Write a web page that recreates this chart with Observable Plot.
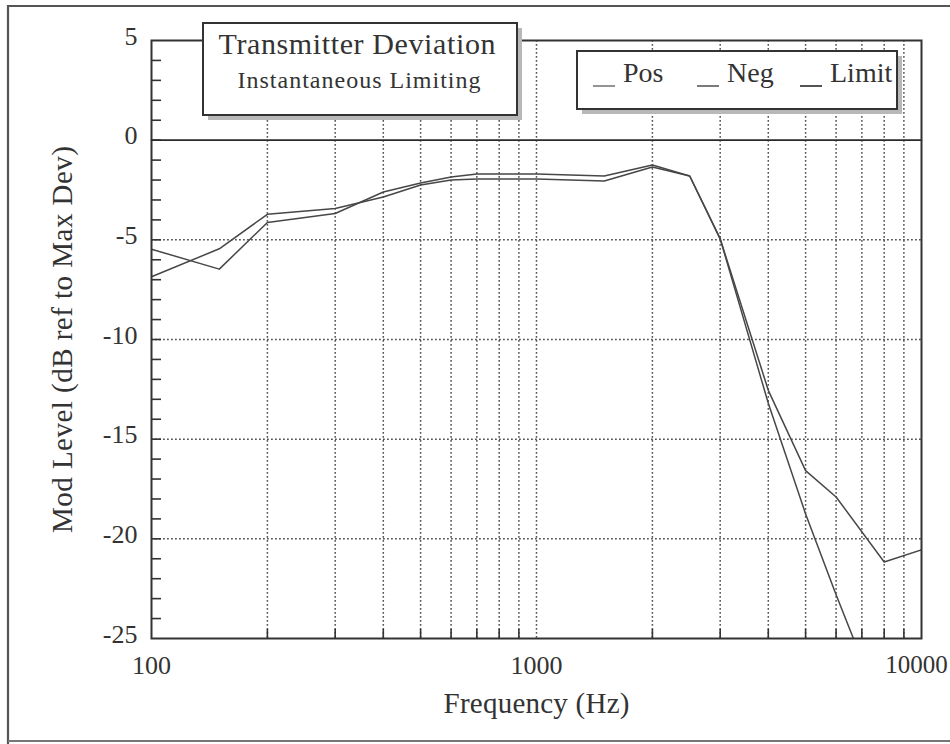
<!DOCTYPE html>
<html>
<head>
<meta charset="utf-8">
<script src="https://cdn.jsdelivr.net/npm/d3@7"></script>
<script src="https://cdn.jsdelivr.net/npm/@observablehq/plot@0.6"></script>
<style>
  html, body { margin: 0; padding: 0; background: #ffffff; }
  #chart svg { display: block; }
</style>
</head>
<body>
<div id="chart"></div>
<script>
// ---- Data ----
const posFreq  = [100, 150, 200, 300, 400, 500, 600, 700, 800, 1000, 1500, 2000, 2500, 3000, 4000, 5000, 6000, 8000, 10000];
const posLevel = [-6.85, -5.45, -3.72, -3.43, -2.85, -2.25, -2.0, -1.95, -1.95, -1.95, -2.05, -1.35, -1.8, -4.95, -12.55, -16.58, -17.9, -21.16, -20.55];
const negFreq  = [100, 150, 200, 300, 400, 500, 600, 700, 800, 1000, 1500, 2000, 2500, 3000, 4000, 5000, 6000, 8000];
const negLevel = [-5.47, -6.47, -4.13, -3.68, -2.6, -2.15, -1.85, -1.7, -1.7, -1.7, -1.8, -1.25, -1.8, -4.95, -13.2, -18.75, -22.8, -28.9];
const limitFreq  = [100, 10000];
const limitLevel = [0, 0];

const xTickLabels = [100, 1000, 10000];
const yTickLabels = [5, 0, -5, -10, -15, -20, -25];
const xGrid = [200, 300, 400, 500, 600, 700, 800, 900, 1000, 2000, 3000, 4000, 5000, 6000, 7000, 8000, 9000];
const yGrid = [-5, -10, -15, -20];
const xMinorTicks = [200, 300, 400, 500, 600, 700, 800, 900, 2000, 3000, 4000, 5000, 6000, 7000, 8000, 9000];
const yMinorTicks = d3.range(4, -25, -1);

const titleText = "Transmitter Deviation";
const subtitleText = "Instantaneous Limiting";
const seriesNames = ["Pos", "Neg", "Limit"];

// ---- Tables built from the arrays ----
const pos = posFreq.map((f, i) => ({f, v: posLevel[i]}));
const neg = negFreq.map((f, i) => ({f, v: negLevel[i]}));
const limit = limitFreq.map((f, i) => ({f, v: limitLevel[i]}));

const W = 950, H = 744;
const mL = 151, mR = 29, mT = 40, mB = 106;
const plotW = W - mL - mR, plotH = H - mT - mB;

const ink = "#333";
const serif = "'Liberation Serif', 'Times New Roman', serif";
const gridStyle = {stroke: "#555", strokeWidth: 1.5, strokeDasharray: "1.8,2.2"};

const chart = Plot.plot({
  width: W,
  height: H,
  marginLeft: mL,
  marginRight: mR,
  marginTop: mT,
  marginBottom: mB,
  style: {fontFamily: serif, fontSize: "26px", color: ink, background: "#ffffff"},
  x: {type: "log", domain: [100, 10000]},
  y: {domain: [-25, 5]},
  marks: [
    Plot.ruleX(xGrid, {x: d => d, ...gridStyle}),
    Plot.ruleY(yGrid, {y: d => d, ...gridStyle}),
    Plot.tickY(yMinorTicks, {y: d => d, insetRight: plotW - 10, stroke: ink, strokeWidth: 1.6}),
    Plot.tickX(xMinorTicks, {x: d => d, insetTop: plotH - 9, stroke: ink, strokeWidth: 1.6}),
    Plot.line(limit, {x: "f", y: "v", stroke: "#2a2a2a", strokeWidth: 1.7}),
    Plot.line(pos, {x: "f", y: "v", stroke: "#474747", strokeWidth: 1.5, clip: true}),
    Plot.line(neg, {x: "f", y: "v", stroke: "#474747", strokeWidth: 1.5, clip: true}),
    Plot.frame({stroke: ink, strokeWidth: 2}),
    Plot.axisY({
      ticks: yTickLabels, tickSize: 0, tickPadding: 14, dy: -4,
      tickFormat: d => String(d),
      label: "Mod Level (dB ref to Max Dev)", labelAnchor: "center", labelArrow: "none", labelOffset: 100
    }),
    Plot.axisX({
      ticks: xTickLabels, tickSize: 0, tickPadding: 17,
      tickFormat: d => String(d),
      label: "Frequency (Hz)", labelAnchor: "center", labelArrow: "none", labelOffset: 74
    })
  ]
});

document.getElementById("chart").appendChild(chart);

const svg = d3.select(chart);
// axis titles: size and length as in the reference
svg.selectAll("g[aria-label='y-axis label'] text")
  .attr("font-size", 29).attr("textLength", 387).attr("lengthAdjust", "spacing");
svg.selectAll("g[aria-label='x-axis label'] text")
  .attr("font-size", 29).attr("textLength", 186).attr("lengthAdjust", "spacing");
// keep the last x tick label inside the page
svg.selectAll("g[aria-label='x-axis tick label'] text")
  .filter(function () { return this.textContent === "10000"; })
  .attr("font-size", 25).attr("dx", -5);

// ---- Decorations: page border, title box, legend box ----
const deco = svg.append("g").attr("font-family", serif).attr("fill", ink).attr("text-anchor", "start");

deco.append("path")
  .attr("d", `M${W + 10},6 H8 V${H + 10}`)
  .attr("fill", "none").attr("stroke", "#555").attr("stroke-width", 2.2);
deco.append("line")
  .attr("x1", 8).attr("x2", W + 10).attr("y1", 741).attr("y2", 741)
  .attr("stroke", "#777").attr("stroke-width", 2);

// title box
deco.append("rect").attr("x", 208).attr("y", 28).attr("width", 314).attr("height", 92)
  .attr("fill", "#b8b8b8");
deco.append("rect").attr("x", 203).attr("y", 23).attr("width", 314).attr("height", 92)
  .attr("fill", "#fff").attr("stroke", ink).attr("stroke-width", 2);
deco.append("text").attr("x", 357).attr("y", 54).attr("text-anchor", "middle")
  .attr("font-size", 30).attr("textLength", 277).attr("lengthAdjust", "spacing").text(titleText);
deco.append("text").attr("x", 359).attr("y", 88).attr("text-anchor", "middle")
  .attr("font-size", 24).attr("textLength", 243).attr("lengthAdjust", "spacing").text(subtitleText);

// legend box
deco.append("rect").attr("x", 582).attr("y", 56).attr("width", 320).attr("height", 58)
  .attr("fill", "#b8b8b8");
deco.append("rect").attr("x", 577).attr("y", 51).attr("width", 320).attr("height", 58)
  .attr("fill", "#fff").attr("stroke", ink).attr("stroke-width", 2);
const legendX = [593, 697, 800];
const legendStroke = ["#7a7a7a", "#5a5a5a", "#2a2a2a"];
seriesNames.forEach((name, i) => {
  deco.append("line").attr("x1", legendX[i]).attr("x2", legendX[i] + 22)
    .attr("y1", 86).attr("y2", 86).attr("stroke", legendStroke[i]).attr("stroke-width", 1.6);
  deco.append("text").attr("x", legendX[i] + 30).attr("y", 82)
    .attr("text-anchor", "start").attr("font-size", 28).text(name);
});
</script>
</body>
</html>
